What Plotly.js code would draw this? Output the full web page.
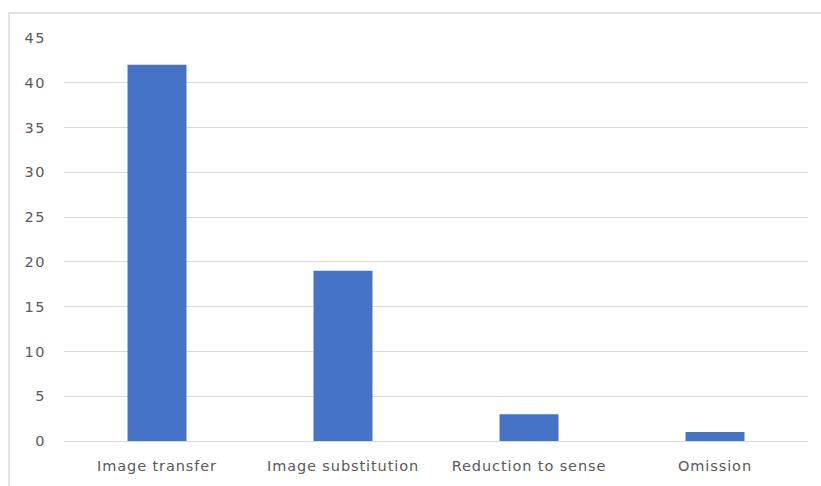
<!DOCTYPE html>
<html>
<head>
<meta charset="utf-8">
<script src="https://cdn.plot.ly/plotly-3.0.1.min.js"></script>
<style>
  html, body { margin: 0; padding: 0; background: #ffffff; }
  #chart { width: 821px; height: 486px; }
  /* slightly airier tick text */
  #chart .xtick text { letter-spacing: 0.9px; }
  #chart .ytick text { letter-spacing: 1.5px; }
</style>
</head>
<body>
<div id="chart"></div>
<script>
// Translation strategies and how often each occurs
const categories = ["Image transfer", "Image substitution", "Reduction to sense", "Omission"];
const counts = [42, 19, 3, 1];
const yTicks = [0, 5, 10, 15, 20, 25, 30, 35, 40, 45];

const textColor = "#595959";
const fontFamily = "'DejaVu Sans', sans-serif";

const trace = {
  type: "bar",
  x: categories,
  y: counts,
  marker: { color: "#4472C4" },
  width: 0.317,
  hoverinfo: "x+y"
};

const layout = {
  width: 821,
  height: 486,
  margin: { l: 64, r: 13, t: 38, b: 45 },
  paper_bgcolor: "#ffffff",
  plot_bgcolor: "#ffffff",
  showlegend: false,
  font: { family: fontFamily, size: 14, color: textColor },
  xaxis: {
    type: "category",
    showgrid: false,
    zeroline: false,
    showline: true,
    linecolor: "#d9d9d9",
    linewidth: 1,
    ticks: "",
    tickfont: { family: fontFamily, size: 14.5, color: textColor },
    ticklabelstandoff: 12
  },
  yaxis: {
    range: [0, 45],
    tickvals: yTicks,
    ticktext: yTicks.map(String),
    showgrid: true,
    gridcolor: "#d9d9d9",
    gridwidth: 1,
    zeroline: false,
    showline: false,
    ticks: "",
    tickfont: { family: fontFamily, size: 14.5, color: textColor },
    ticklabelstandoff: 17
  },
  shapes: [
    {
      type: "rect",
      xref: "paper", yref: "paper",
      x0: -0.0739, x1: 1.2, y0: -0.3, y1: 1.062,
      line: { color: "#d9d9d9", width: 1.5 },
      fillcolor: "rgba(0,0,0,0)",
      layer: "below"
    }
  ]
};

Plotly.newPlot("chart", [trace], layout, { displayModeBar: false, staticPlot: true });
</script>
</body>
</html>
